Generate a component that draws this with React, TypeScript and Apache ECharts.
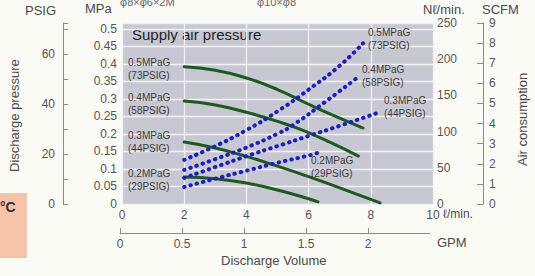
import React, { useEffect, useRef } from "react";
import * as echarts from "echarts";

// Discharge volume ticks (L/min) and GPM ticks
const flowMax = 10;
const gpmTicks = [0, 0.5, 1, 1.5, 2];
const psigTicks = [0, 20, 40, 60];

// Discharge pressure curves (MPa) vs discharge volume (L/min)
const pressure05 = [[2, 0.392], [3, 0.382], [4, 0.36], [5, 0.327], [6, 0.285], [7, 0.245], [7.75, 0.217]];
const pressure04 = [[2, 0.294], [3, 0.283], [4, 0.262], [5, 0.236], [5.8, 0.211], [6.7, 0.176], [7.6, 0.137]];
const pressure03 = [[2, 0.177], [3, 0.16], [4, 0.136], [5, 0.108], [6, 0.078], [7, 0.046], [8.3, 0.003]];
const pressure02 = [[2, 0.077], [3, 0.072], [4, 0.06], [5, 0.04], [6, 0.015], [6.3, 0.006]];

// Air consumption curves (Nl/min) vs discharge volume (L/min)
const air05 = [[2, 61], [3, 80], [4, 102], [5, 128], [6, 158], [7, 191], [7.75, 222]];
const air04 = [[2, 47], [3, 62], [4, 78], [5, 97], [5.5, 109], [6.5, 140], [7.55, 174]];
const air03 = [[2, 36], [3, 51], [4, 66], [5, 80], [6, 94], [7, 108], [8.3, 127]];
const air02 = [[2, 23.5], [3, 35], [4, 46], [5, 57], [6, 67], [6.4, 72]];

const supplyLabels = ["0.5MPaG\n(73PSIG)", "0.4MPaG\n(58PSIG)", "0.3MPaG\n(44PSIG)", "0.2MPaG\n(29PSIG)"];

const FONT = "Liberation Sans, Arial, sans-serif";
const TICK = "#555";
const TITLE = "#4a4a4a";

export default function App() {
  const ref = useRef<HTMLDivElement>(null);
  useEffect(() => {
    if (!ref.current) return;
    const chart = echarts.init(ref.current, null, { renderer: "svg" });
    const green = (name: string, data: number[][]) => ({
      name, type: "line", data, xAxisIndex: 0, yAxisIndex: 0, smooth: true, symbol: "none",
      lineStyle: { color: "#1d5a1f", width: 3, cap: "round" }, z: 3,
    });
    const blue = (name: string, data: number[][]) => ({
      name, type: "line", data, xAxisIndex: 0, yAxisIndex: 2, smooth: true, symbol: "none",
      lineStyle: { color: "#1d1dc6", width: 4, type: [0.5, 6], cap: "round" }, z: 4,
    });
    const txt = (x: number, y: number, text: string, size: number, extra: any = {}) => ({
      type: "text", x, y, silent: true,
      style: { text, fontSize: size, fontFamily: FONT, fill: TITLE, ...extra },
    });
    const lbl = (x: number, y: number, text: string) => ({
      type: "text", x, y, z: 10,
      style: { text, fontSize: 10, lineHeight: 13, fontFamily: FONT, fill: "#3c3c3c", align: "left", verticalAlign: "top" },
    });
    chart.setOption({
      animation: false,
      backgroundColor: "#fbfbf5",
      grid: [
        { left: 122, right: 102, top: 23, height: 181, show: true, backgroundColor: "#c8c8d2", borderWidth: 0 },
        { left: 120, width: 310, top: 232, height: 1, show: false },
      ],
      xAxis: [
        {
          type: "value", gridIndex: 0, min: 0, max: flowMax, interval: 2,
          axisLine: { show: false }, axisTick: { show: false },
          axisLabel: { color: TICK, fontSize: 12, fontFamily: FONT, margin: 5 },
          splitLine: { show: true, lineStyle: { color: "#f2f2f6", width: 1.3 } },
        },
        {
          type: "value", gridIndex: 1, min: 0, max: 2.5, interval: 0.5, position: "bottom",
          axisLine: { show: true, lineStyle: { color: "#8a8a8a", width: 1 } },
          axisTick: { show: true, inside: true, length: 5, customValues: gpmTicks, lineStyle: { color: "#8a8a8a" } },
          axisLabel: { color: TICK, fontSize: 12, fontFamily: FONT, margin: 5, customValues: gpmTicks,
            formatter: (v: number) => (v > 2.01 ? "" : String(v)) },
          splitLine: { show: false },
        },
      ],
      yAxis: [
        {
          type: "value", gridIndex: 0, position: "left", min: 0, max: 0.5171, interval: 0.05,
          axisLine: { show: false }, axisTick: { show: false },
          axisLabel: { color: TICK, fontSize: 12, fontFamily: FONT, margin: 5,
            formatter: (v: number) => (v > 0.501 ? "" : String(+v.toFixed(2))) },
          splitLine: { show: true, lineStyle: { color: "#f2f2f6", width: 1.3 } },
        },
        {
          type: "value", gridIndex: 0, position: "left", offset: 59, min: 0, max: 72.4, interval: 10,
          axisLine: { show: true, lineStyle: { color: "#8a8a8a", width: 1 } },
          axisTick: { show: true, inside: true, length: 5, lineStyle: { color: "#8a8a8a" } },
          axisLabel: { color: TICK, fontSize: 12, fontFamily: FONT, margin: 8,
            formatter: (v: number) => (psigTicks.includes(v) ? String(v) : "") },
          splitLine: { show: false },
        },
        {
          type: "value", gridIndex: 0, position: "right", min: 0, max: 250, interval: 50,
          axisLine: { show: false }, axisTick: { show: false },
          axisLabel: { color: TICK, fontSize: 12, fontFamily: FONT, margin: 4 },
          splitLine: { show: false },
        },
        {
          type: "value", gridIndex: 0, position: "right", offset: 50, min: 0, max: 9, interval: 1,
          axisLine: { show: true, lineStyle: { color: "#8a8a8a", width: 1 } },
          axisTick: { show: true, inside: true, length: 6, lineStyle: { color: "#8a8a8a" } },
          axisLabel: { color: TICK, fontSize: 12, fontFamily: FONT, margin: 6 },
          splitLine: { show: false },
        },
        { type: "value", gridIndex: 1, show: false },
      ],
      series: [
        green("p05", pressure05), green("p04", pressure04), green("p03", pressure03), green("p02", pressure02),
        blue("a05", air05), blue("a04", air04), blue("a03", air03), blue("a02", air02),
      ],
      graphic: [
        { type: "rect", shape: { x: 0, y: 193, width: 27, height: 65 }, style: { fill: "#f5c2aa" }, silent: true },
        txt(0, 200, "°C", 14, { fontWeight: "bold", fill: "#3a2a22" }),
        txt(120, -4, "φ8×φ6×2M", 11, { fill: "#666" }),
        txt(257, -4, "φ10×φ8", 11, { fill: "#666" }),
        txt(25, 4, "PSIG", 13),
        txt(85, 2, "MPa", 13),
        txt(423, 3, "Nℓ/min.", 13),
        txt(482, 3, "SCFM", 13),
        txt(437, 236, "GPM", 13),
        txt(443, 208, "ℓ/min.", 12),
        txt(221, 254, "Discharge Volume", 13),
        { type: "text", x: 8, y: 172, rotation: Math.PI / 2, silent: true,
          style: { text: "Discharge pressure", fontSize: 13, fontFamily: FONT, fill: TITLE } },
        { type: "text", x: 516, y: 166, rotation: Math.PI / 2, silent: true,
          style: { text: "Air consumption", fontSize: 13, fontFamily: FONT, fill: TITLE } },
        txt(132, 27, "Supply air pressure", 15, { fill: "#1e1e1e" }),
        lbl(128, 56, supplyLabels[0]),
        lbl(128, 91, supplyLabels[1]),
        lbl(128, 129, supplyLabels[2]),
        lbl(128, 167, supplyLabels[3]),
        lbl(368, 26, supplyLabels[0]),
        lbl(362, 63, supplyLabels[1]),
        lbl(384, 94, supplyLabels[2]),
        lbl(311, 154, supplyLabels[3]),
      ],
    });
    return () => chart.dispose();
  }, []);
  return (
    <div
      ref={ref}
      style={{ position: "fixed", left: 0, top: 0, width: 535, height: 276, background: "#fbfbf5" }}
    />
  );
}
